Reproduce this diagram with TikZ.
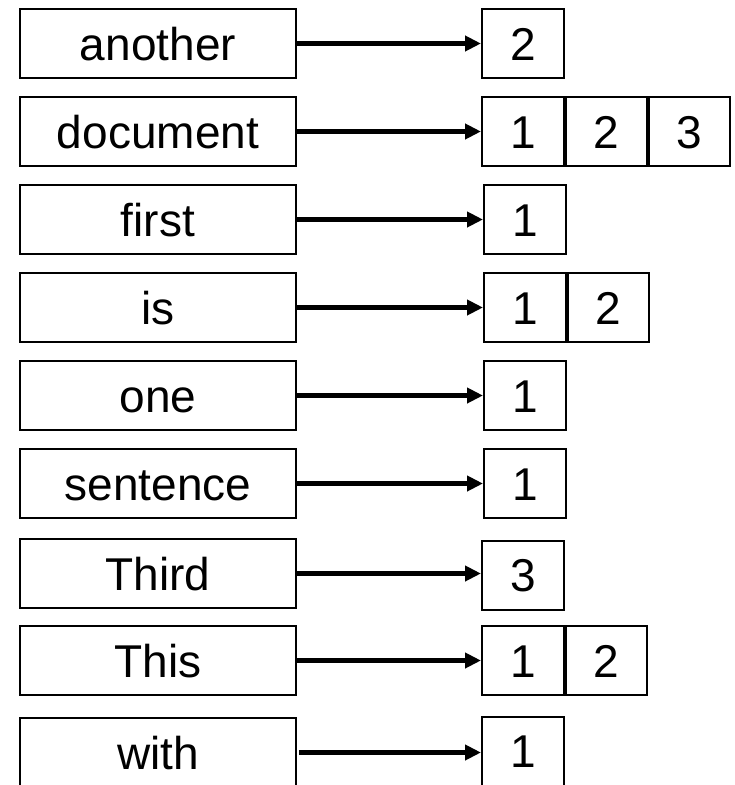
\documentclass[tikz,border=0pt]{standalone}
\usepackage{fontspec}
\newfontfamily\wordfont{Liberation Sans}
\usetikzlibrary{arrows.meta}

\tikzset{
  keybox/.style={draw, line width=2pt, minimum width=276pt, minimum height=69pt,
    inner sep=0pt, text height=33pt, text depth=0pt,
    font=\wordfont\fontsize{46}{50}\selectfont},
  cell/.style={draw, line width=2pt, minimum height=69pt, inner sep=0pt,
    text height=33pt, text depth=0pt,
    font=\wordfont\fontsize{46}{50}\selectfont},
  wide/.style={cell, minimum width=82pt},
  narrow/.style={cell, minimum width=81pt},
  link/.style={line width=4.5pt, -{Triangle[length=16pt,width=15pt]}, shorten <=-1pt}
}

\begin{document}
\begin{tikzpicture}[x=1pt, y=-1pt]
  \useasboundingbox (0,0) rectangle (735,785);
  \clip (0,0) rectangle (735,785);

  % vocabulary words (left column)
  \node[keybox] (w1) at (158,43.5)  {another};
  \node[keybox] (w2) at (158,131.5) {document};
  \node[keybox] (w3) at (158,219.5) {first};
  \node[keybox] (w4) at (158,307.5) {is};
  \node[keybox] (w5) at (158,395.5) {one};
  \node[keybox] (w6) at (158,483.5) {sentence};
  \node[keybox] (w7) at (158,573.5) {Third};
  \node[keybox] (w8) at (158,660.5) {This};
  \node[keybox] (w9) at (158,752.5) {with};

  % posting lists (document ids)
  \node[wide]   (p1a) at (523,43.5)    {2};

  \node[wide]   (p2a) at (523,131.5)   {1};
  \node[narrow] (p2b) at (606.5,131.5) {2};
  \node[narrow] (p2c) at (689.5,131.5) {3};

  \node[wide]   (p3a) at (525,219.5)   {1};

  \node[wide]   (p4a) at (525,307.5)   {1};
  \node[narrow] (p4b) at (608.5,307.5) {2};

  \node[wide]   (p5a) at (525,395.5)   {1};

  \node[wide]   (p6a) at (525,483.5)   {1};

  \node[wide]   (p7a) at (523,575)     {3};

  \node[wide]   (p8a) at (523,660.5)   {1};
  \node[narrow] (p8b) at (606.5,660.5) {2};

  \node[wide]   (p9a) at (523,751)     {1};

  % pointers from each word to its list
  \draw[link] (w1.east) -- (p1a.west |- w1.east);
  \draw[link] (w2.east) -- (p2a.west |- w2.east);
  \draw[link] (w3.east) -- (p3a.west |- w3.east);
  \draw[link] (w4.east) -- (p4a.west |- w4.east);
  \draw[link] (w5.east) -- (p5a.west |- w5.east);
  \draw[link] (w6.east) -- (p6a.west |- w6.east);
  \draw[link] (w7.east) -- (p7a.west |- w7.east);
  \draw[link] (w8.east) -- (p8a.west |- w8.east);
  \draw[link, shorten <=2pt] (w9.east) -- (p9a.west |- w9.east);
\end{tikzpicture}
\end{document}
